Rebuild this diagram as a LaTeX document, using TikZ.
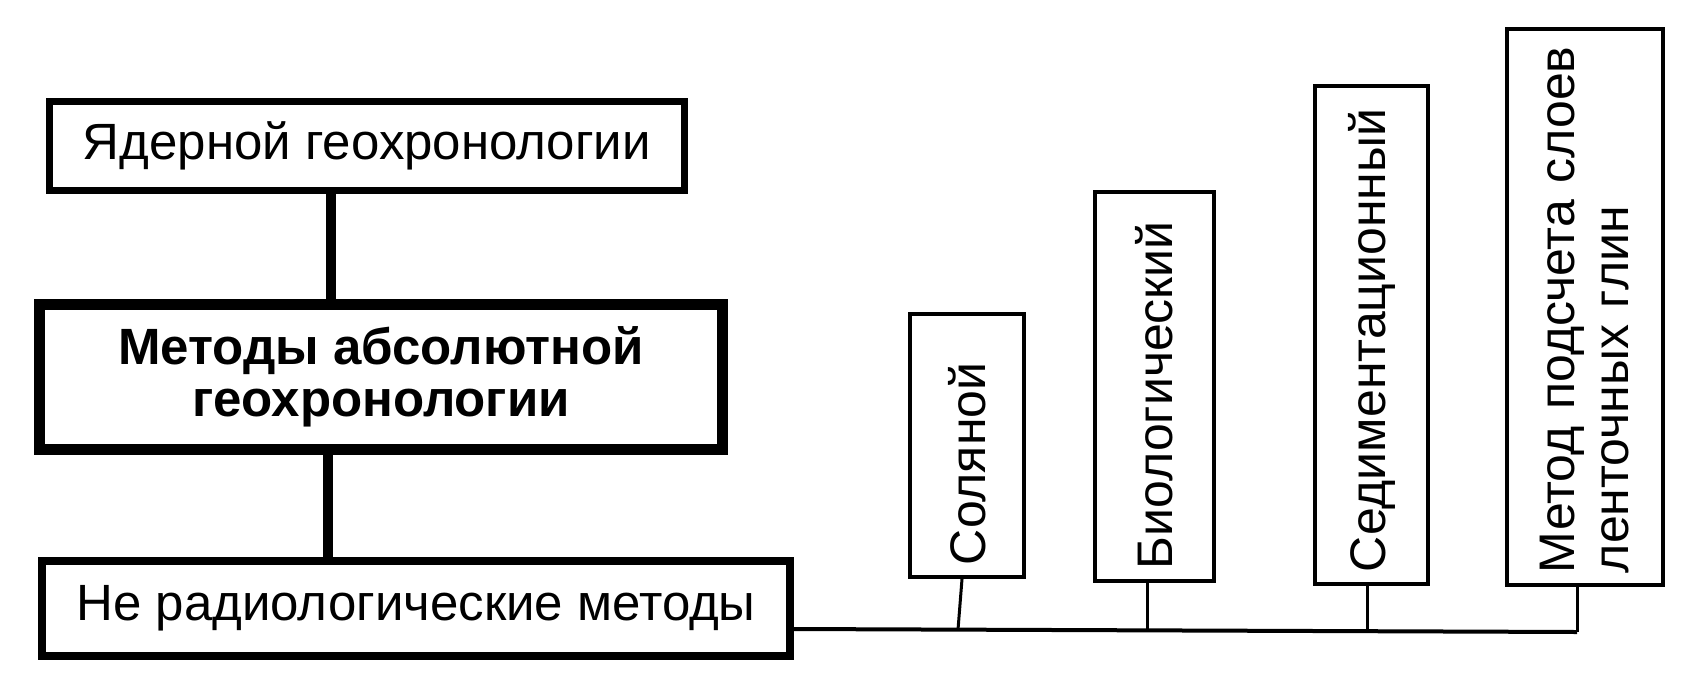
\documentclass[tikz,border=0pt]{standalone}
\usepackage{fontspec}
\setmainfont{Liberation Sans}
\usepackage{tikz}
\usetikzlibrary{positioning, calc}

\begin{document}
\begin{tikzpicture}[
  x=0.5pt, y=-0.5pt,
  box/.style={rectangle, draw, line width=3.5pt, align=center, inner sep=0pt,
              font=\fontsize{25.5}{26}\selectfont},
  vbox/.style={rectangle, draw, line width=2pt, rotate=90, align=left,
               inner xsep=6pt, inner ysep=0pt, font=\fontsize{25}{27}\selectfont},
  link/.style={line width=5pt},
  bus/.style={line width=2pt},
  stub/.style={line width=1.5pt},
]
\useasboundingbox (0,0) rectangle (1684,675);

% left column
\node[box, minimum width=317.5pt, minimum height=44.5pt] (nuclear) at (367,146)
  {Ядерной геохронологии};
\node[box, line width=5.5pt, minimum width=341.5pt, minimum height=72.5pt,
      font=\bfseries\fontsize{25.5}{26}\selectfont] (absolute) at (381,377)
  {Методы абсолютной\\геохронологии};
\node[box, line width=4pt, minimum width=374pt, minimum height=47.5pt] (nonradio) at (416,608.5)
  {Не радиологические методы};

% vertical boxes
\node[vbox, minimum width=131.5pt, minimum height=57pt, text width=119.5pt] (salt) at (967,445.5)
  {Соляной};
\node[vbox, minimum width=194.5pt, minimum height=59.5pt, text width=182.5pt] (bio) at (1154.5,386.5)
  {Биологический};
\node[vbox, minimum width=249pt, minimum height=56.5pt, text width=237pt] (sediment) at (1371.5,335)
  {Седиментационный};
\node[vbox, minimum width=278pt, minimum height=78pt, text width=266pt] (varve) at (1585,307)
  {Метод~подсчета~слоев\\ленточных глин};

\coordinate (j1) at (958,629.6);
\coordinate (j2) at (1147,630.4);
\coordinate (j3) at (1367,631.2);
\coordinate (j4) at (1577,632);

\draw[link] ([xshift=-18pt]nuclear.south) -- ([xshift=-25pt]absolute.north);
\draw[link] ([xshift=-26.5pt]absolute.south) -- ([xshift=-44pt]nonradio.north);
\draw[bus] ([yshift=-10.25pt]nonradio.east) -- (j4);
\draw[stub] ([xshift=-2.5pt]salt.west) -- (j1);
\draw[stub] ([xshift=-3.75pt]bio.west) -- (j2);
\draw[stub] ([xshift=-2.25pt]sediment.west) -- (j3);
\draw[stub] ([xshift=-4pt]varve.west) -- (j4);
\end{tikzpicture}
\end{document}
